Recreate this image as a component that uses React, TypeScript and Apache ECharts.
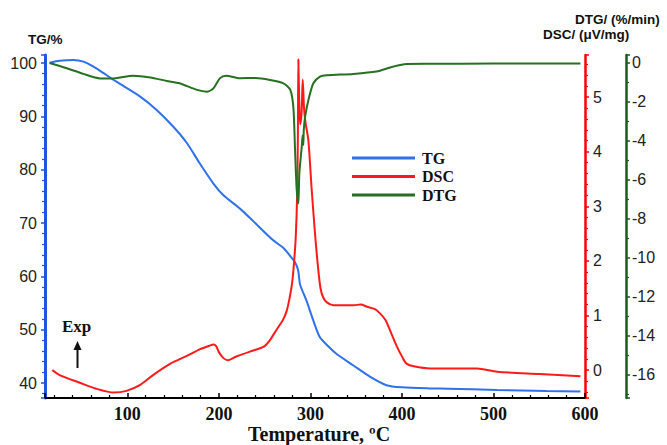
import React, { useEffect, useRef } from "react";
import * as echarts from "echarts";

// Temperature (°C) / value pairs
const tgTemp = [15, 26, 41, 52, 63, 77, 88, 114, 132, 150, 165, 179, 194, 205, 223, 236, 259, 270, 278, 283, 286.5, 288.5, 291, 296, 303, 310, 320, 329, 347, 365, 383, 400, 430, 450, 504, 558, 595];
const tgValues = [100.05, 100.4, 100.55, 100.25, 99.3, 97.75, 96.5, 93.7, 91.2, 88.1, 85.0, 81.2, 77.4, 75.2, 72.7, 70.6, 66.8, 65.4, 63.8, 62.7, 61.2, 58.6, 57.4, 55.3, 51.8, 48.7, 46.8, 45.4, 43.3, 41.2, 39.6, 39.2, 39.0, 38.95, 38.7, 38.5, 38.4];

const dscTemp = [18, 26, 48, 66, 85, 99, 114, 128, 147, 165, 179, 190, 194, 197, 200, 205, 210, 219, 234, 245, 250, 255, 260, 265, 270, 274, 277, 280, 282, 284, 285.5, 286.3, 286.8, 287.8, 288.8, 290.3, 291.6, 293, 294.5, 297.8, 301.4, 305.5, 308.5, 311, 314, 318, 325, 347, 355, 362, 370, 376, 382, 387, 394, 401, 405, 413, 431, 460, 482, 504, 550, 595];
const dscValues = [0.0, -0.09, -0.23, -0.34, -0.41, -0.38, -0.27, -0.09, 0.12, 0.26, 0.38, 0.45, 0.47, 0.44, 0.33, 0.22, 0.18, 0.25, 0.34, 0.40, 0.44, 0.53, 0.66, 0.79, 0.92, 1.08, 1.3, 1.6, 1.95, 2.45, 3.2, 4.3, 5.69, 4.9, 4.5, 4.7, 5.32, 4.8, 4.55, 4.2, 3.3, 2.4, 1.85, 1.5, 1.33, 1.24, 1.19, 1.19, 1.2, 1.16, 1.12, 1.04, 0.92, 0.73, 0.45, 0.22, 0.12, 0.07, 0.03, 0.03, 0.03, -0.03, -0.07, -0.11];

const dtgTemp = [15, 34, 52, 70, 85, 106, 125, 143, 157, 176, 187, 194, 201, 208, 223, 240, 256, 270, 278, 281.4, 283.2, 285, 286.8, 287.9, 290.5, 291.5, 292.2, 292.8, 294.2, 297.8, 303.2, 310.5, 318, 347, 372, 390, 405, 430, 500, 595];
const dtgValues = [0.0, -0.27, -0.56, -0.79, -0.79, -0.65, -0.74, -0.92, -1.04, -1.38, -1.47, -1.3, -0.79, -0.65, -0.78, -0.77, -0.87, -1.03, -1.38, -2.3, -4.46, -6.5, -7.2, -5.66, -4.3, -3.7, -4.2, -3.4, -2.75, -1.9, -1.04, -0.7, -0.63, -0.56, -0.44, -0.19, -0.05, -0.04, -0.03, -0.02];

const seriesNames = ["TG", "DSC", "DTG"];
const xName = "Temperature, ºC";

const pairs = (xs: number[], ys: number[]) => xs.map((x, i) => [x, ys[i]]);

const SANS = "'Liberation Sans', Arial, sans-serif";
const SERIF = "'Liberation Serif', 'Times New Roman', serif";

export default function App() {
  const ref = useRef<HTMLDivElement>(null);
  useEffect(() => {
    if (!ref.current) return;
    const chart = echarts.init(ref.current, undefined, { renderer: "svg" });
    const blue = "#2f70ec";
    const red = "#ff1a1a";
    const green = "#26701f";
    chart.setOption({
      animation: false,
      backgroundColor: "#ffffff",
      grid: { left: 45, right: 82, top: 55, bottom: 47 },
      legend: {
        orient: "vertical",
        left: 347,
        top: 145,
        icon: "rect",
        itemWidth: 63,
        itemHeight: 3,
        itemGap: 2.5,
        data: seriesNames,
        textStyle: { fontFamily: SERIF, fontWeight: "bold", fontSize: 16, color: "#111", padding: [0, 0, 0, 2] },
      },
      xAxis: {
        type: "value",
        min: 10,
        max: 600,
        minInterval: 100,
        maxInterval: 100,
        axisLine: { show: true, onZero: false, lineStyle: { color: "#000", width: 2 } },
        axisTick: { show: true, inside: true, length: 5, lineStyle: { color: "#000", width: 1.5 } },
        minorTick: { show: true, splitNumber: 5, length: 3, lineStyle: { color: "#000", width: 1.2 } },
        splitLine: { show: false },
        axisLabel: { fontFamily: SERIF, fontWeight: "bold", fontSize: 18, color: "#111", margin: 7, showMinLabel: false },
      },
      yAxis: [
        {
          type: "value",
          position: "left",
          min: 37.2,
          max: 101.5,
          minInterval: 10,
          maxInterval: 10,
          axisLine: { show: true, onZero: false, lineStyle: { color: "#1f55e0", width: 3 } },
          axisTick: { show: true, inside: false, length: 4, lineStyle: { color: "#1f55e0", width: 1.5 } },
          minorTick: { show: true, splitNumber: 5, length: 3, lineStyle: { color: "#1f55e0", width: 1.2 } },
          splitLine: { show: false },
          axisLabel: { fontFamily: SANS, fontSize: 16, color: "#222", margin: 8, showMinLabel: false, showMaxLabel: false },
        },
        {
          type: "value",
          position: "right",
          offset: 0,
          min: -0.51,
          max: 5.77,
          minInterval: 1,
          maxInterval: 1,
          axisLine: { show: true, onZero: false, lineStyle: { color: "#ff0000", width: 2.5 } },
          axisTick: { show: true, inside: false, length: 4, lineStyle: { color: "#ff0000", width: 1.5 } },
          minorTick: { show: true, splitNumber: 5, length: 3, lineStyle: { color: "#ff0000", width: 1.2 } },
          splitLine: { show: false },
          axisLabel: { fontFamily: SANS, fontSize: 16, color: "#222", margin: 8, showMinLabel: false, showMaxLabel: false },
        },
        {
          type: "value",
          position: "right",
          offset: 41,
          min: -17.18,
          max: 0.41,
          minInterval: 2,
          maxInterval: 2,
          axisLine: { show: true, onZero: false, lineStyle: { color: "#1d5a1d", width: 2.5 } },
          axisTick: { show: true, inside: false, length: 4, lineStyle: { color: "#1d5a1d", width: 1.5 } },
          minorTick: { show: true, splitNumber: 2, length: 3, lineStyle: { color: "#1d5a1d", width: 1.2 } },
          splitLine: { show: false },
          axisLabel: { fontFamily: SANS, fontSize: 16, color: "#222", margin: 6, showMinLabel: false, showMaxLabel: false },
        },
      ],
      series: [
        {
          name: seriesNames[0],
          type: "line",
          yAxisIndex: 0,
          data: pairs(tgTemp, tgValues),
          showSymbol: false,
          smooth: 0.25,
          color: blue,
          lineStyle: { color: blue, width: 2 },
        },
        {
          name: seriesNames[1],
          type: "line",
          yAxisIndex: 1,
          data: pairs(dscTemp, dscValues),
          showSymbol: false,
          smooth: 0.25,
          color: red,
          lineStyle: { color: red, width: 2 },
        },
        {
          name: seriesNames[2],
          type: "line",
          yAxisIndex: 2,
          data: pairs(dtgTemp, dtgValues),
          showSymbol: false,
          smooth: 0.25,
          color: green,
          lineStyle: { color: green, width: 2 },
        },
      ],
      graphic: [
        { type: "text", left: 28, top: 32, style: { text: "TG/%", fontFamily: SANS, fontSize: 13.5, fontWeight: "bold", fill: "#111" } },
        { type: "text", left: 575, top: 12, style: { text: "DTG/ (%/min)", fontFamily: SANS, fontSize: 13.5, fontWeight: "bold", fill: "#111" } },
        { type: "text", left: 543, top: 27, style: { text: "DSC/ (μV/mg)", fontFamily: SANS, fontSize: 13.5, fontWeight: "bold", fill: "#111" } },
        { type: "text", left: 248, top: 424, style: { text: xName, fontFamily: SERIF, fontWeight: "bold", fontSize: 20, fill: "#111" } },
        { type: "text", left: 62, top: 318, style: { text: "Exp", fontFamily: SERIF, fontWeight: "bold", fontSize: 17, fill: "#111" } },
        { type: "line", shape: { x1: 77.5, y1: 368, x2: 77.5, y2: 348 }, style: { stroke: "#111", lineWidth: 2 } },
        { type: "polygon", shape: { points: [[73.5, 350], [81.5, 350], [77.5, 341]] }, style: { fill: "#111" } },
      ],
    });
    return () => chart.dispose();
  }, []);
  return <div ref={ref} style={{ position: "fixed", left: 0, top: 0, width: 667, height: 445, background: "#fff" }} />;
}
